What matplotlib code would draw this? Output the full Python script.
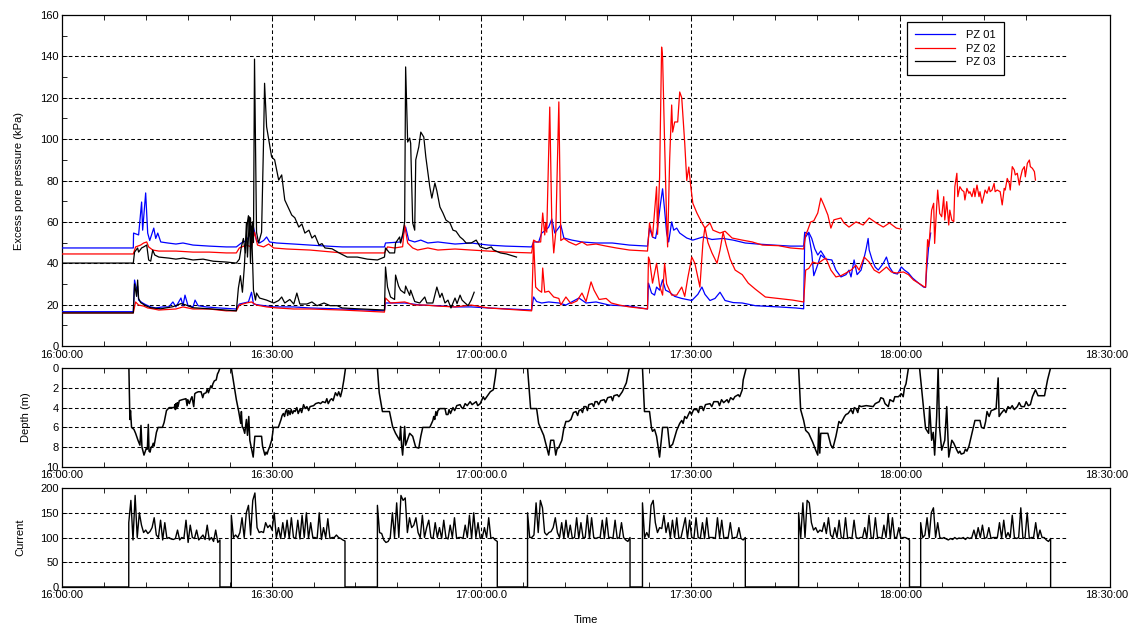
import numpy as np
import matplotlib
matplotlib.use("Agg")
import matplotlib.pyplot as plt
import matplotlib.transforms as mtransforms

plt.rcParams['font.family'] = ['Liberation Sans', 'DejaVu Sans']
plt.rcParams['font.size'] = 8

# time is in minutes after 16:00:00
x_major = [0, 30, 60, 90, 120, 150]
x_labels = ['16:00:00', '16:30:00', '17:00:00.0', '17:30:00', '18:00:00', '18:30:00']

# excess pore pressure (kPa), (minute, value)
pz01_upper = [
    (0, 47.4), (10.2, 47.4), (10.24, 54.6), (10.96, 53.7), (11.39, 69.6), (11.54, 56.0), (11.97, 74.0),
    (12.26, 54.6), (12.55, 51.0), (13.13, 57.0), (13.41, 52.0), (13.70, 54.6), (14.13, 50.3), (15.14, 49.8),
    (16.30, 49.3), (17.31, 49.8), (18.75, 48.8), (21.06, 48.3), (23.51, 47.9), (24.95, 47.9),
    (25.67, 49.8), (26.39, 51.0), (27.12, 55.0), (27.40, 57.5), (27.84, 51.0), (28.27, 49.8), (28.85, 51.0),
    (29.28, 52.7), (29.71, 50.3), (30.72, 49.8), (33.17, 49.3), (35.48, 48.8), (37.93, 48.3), (40.10, 47.9),
    (46.15, 47.9), (46.30, 49.8), (48.46, 50.3), (49.18, 57.5), (49.62, 51.2), (50.48, 50.3), (51.35, 51.2),
    (52.36, 49.8), (53.80, 50.3), (56.25, 49.3), (58.56, 49.8), (61.01, 48.8), (63.46, 48.3), (67.21, 47.9),
    (67.50, 50.3), (68.22, 50.3), (68.65, 54.6), (69.23, 56.0), (69.66, 57.5), (70.10, 61.4), (70.53, 54.6),
    (71.39, 58.5), (71.83, 52.2), (72.98, 51.2), (74.42, 50.3), (76.44, 49.8), (78.75, 49.8), (81.20, 48.8),
    (83.80, 48.3), (84.09, 57.0), (84.52, 52.7), (84.95, 52.0), (85.24, 57.5), (85.67, 69.0), (85.96, 76.0),
    (86.25, 65.7), (86.54, 54.6), (86.83, 50.3), (87.26, 60.0), (87.55, 56.0), (87.98, 57.0), (88.41, 54.6),
    (89.42, 52.2), (90.29, 51.2), (91.73, 52.7), (93.03, 51.5), (94.62, 52.0), (96.06, 51.2), (97.79, 49.8),
    (99.52, 49.3), (101.83, 48.8), (104.28, 48.3), (106.15, 48.3),
    (106.30, 55.0), (106.88, 54.0), (107.31, 45.0), (107.60, 34.0), (108.03, 38.0), (108.61, 44.0),
    (109.33, 42.0), (110.19, 41.6), (110.77, 36.7), (111.49, 33.4), (112.21, 34.5), (112.64, 36.7),
    (112.93, 33.4), (113.37, 41.6), (113.80, 34.5), (114.37, 36.7), (114.66, 40.5), (115.10, 47.0),
    (115.38, 52.0), (115.53, 46.4), (115.96, 41.6), (116.39, 38.2), (116.83, 36.7), (117.55, 40.0),
    (118.00, 43.0), (118.43, 38.2), (118.99, 35.3), (119.57, 34.8), (120.14, 38.2), (120.58, 36.7),
    (121.15, 35.3), (121.73, 32.9), (122.60, 30.4), (123.32, 28.5), (123.60, 28.3), (123.75, 36.7),
    (124.04, 47.9), (124.33, 54.6),
]
pz01_lower = [
    (0, 16.6), (10.2, 16.6), (10.38, 31.9), (10.67, 27.0), (10.82, 29.0), (10.96, 22.2), (11.54, 20.8),
    (11.97, 20.0), (12.69, 18.9), (13.41, 18.4), (14.42, 18.9), (15.29, 18.9), (15.87, 21.3), (16.30, 18.9),
    (17.02, 23.2), (17.31, 19.5), (17.60, 24.6), (18.03, 19.5), (18.75, 18.9), (19.04, 22.2), (19.47, 19.5),
    (20.63, 18.9), (22.50, 18.4), (24.95, 17.9),
    (25.38, 20.3), (26.68, 21.3), (27.12, 26.0), (27.40, 20.3), (28.27, 19.8), (30.29, 18.9), (33.17, 18.9),
    (35.48, 18.4), (40.10, 17.9), (46.15, 17.0),
    (46.30, 20.8), (49.04, 20.8), (51.35, 19.8), (53.80, 19.5), (56.25, 18.9), (58.56, 18.9), (61.01, 18.4),
    (67.21, 17.4), (67.50, 23.7), (67.93, 21.5), (68.65, 20.8), (69.66, 21.3), (71.11, 20.8), (72.12, 19.8),
    (73.99, 23.2), (75.00, 20.8), (76.44, 21.3), (78.32, 19.8), (81.20, 19.3), (83.80, 17.9),
    (83.94, 30.4), (84.38, 25.6), (84.81, 24.6), (85.10, 28.5), (85.53, 27.0), (85.96, 32.0), (86.39, 27.0),
    (86.97, 26.0), (87.69, 24.0), (88.70, 23.0), (89.42, 22.5), (90.14, 22.0), (90.58, 23.5), (91.01, 25.0),
    (91.59, 28.5), (92.02, 25.0), (92.74, 22.0), (93.46, 23.0), (94.18, 26.0), (94.90, 22.0), (96.06, 21.0),
    (97.36, 20.8), (99.23, 19.5), (102.55, 18.9), (105.00, 18.4), (106.15, 18.0),
    (106.30, 52.0), (106.88, 55.0), (107.31, 52.0), (107.74, 47.0), (108.17, 44.0), (108.61, 46.0),
    (109.18, 43.0),
]
pz02_upper = [
    (0, 44.5), (10.2, 44.5), (10.53, 47.9), (11.25, 48.8), (11.68, 49.8), (12.12, 50.3), (12.40, 47.9),
    (12.98, 46.4), (13.85, 45.9), (16.30, 45.9), (18.75, 45.4), (21.06, 45.4), (23.51, 45.0), (24.95, 45.0),
    (25.38, 47.4), (26.39, 48.8), (27.12, 47.9), (27.55, 55.0), (27.98, 48.8), (28.85, 47.9), (29.57, 49.3),
    (30.29, 47.4), (32.16, 46.9), (35.48, 46.4), (40.10, 45.0), (46.15, 45.0),
    (46.59, 47.9), (47.60, 47.4), (48.75, 48.0), (49.04, 58.5), (49.47, 49.8), (50.19, 47.4), (50.90, 46.4),
    (52.36, 47.4), (53.80, 46.4), (56.25, 46.9), (58.56, 46.4), (61.01, 45.9), (63.46, 45.4), (67.21, 45.0),
    (67.50, 51.2), (67.93, 50.3), (68.51, 50.3), (68.80, 64.3), (69.09, 53.7), (69.23, 59.5), (69.38, 55.0),
    (69.81, 115.5), (70.10, 60.0), (70.38, 45.0), (70.67, 55.0), (71.11, 118.0), (71.39, 51.0), (71.83, 52.0),
    (72.55, 50.3), (73.56, 48.8), (74.42, 50.3), (75.14, 48.8), (76.44, 49.3), (77.88, 48.3), (79.33, 47.4),
    (81.20, 46.4), (83.80, 45.9),
    (84.09, 59.5), (84.52, 52.7), (85.10, 77.0), (85.24, 54.0), (85.53, 81.7), (85.82, 144.5), (85.96, 139.7),
    (86.25, 98.0), (86.54, 60.0), (86.68, 47.9), (86.97, 90.0), (87.26, 116.5), (87.40, 103.4), (87.69, 108.3),
    (88.12, 108.3), (88.41, 122.8), (88.70, 120.0), (89.13, 98.0), (89.42, 80.0), (89.71, 86.5), (90.00, 77.0),
    (90.29, 69.0), (90.87, 64.3), (91.59, 59.5), (92.02, 57.0), (92.74, 59.5), (93.17, 56.0), (94.18, 54.6),
    (94.90, 55.5), (95.91, 52.2), (97.36, 51.2), (98.80, 50.3), (100.24, 48.8), (102.55, 48.5), (104.28, 47.4),
    (106.15, 46.9),
    (106.44, 53.7), (106.73, 56.0), (107.16, 60.0), (107.60, 60.5), (108.17, 64.3), (108.61, 71.5),
    (109.04, 68.2), (109.62, 63.3), (110.05, 57.0), (110.48, 61.0), (111.49, 61.9), (111.92, 59.5),
    (112.64, 57.5), (113.65, 60.0), (114.66, 58.5), (115.53, 61.9), (116.54, 59.5), (117.55, 57.5),
    (118.43, 59.5), (119.42, 57.0), (120.14, 56.5),
]
pz02_lower = [
    (0, 16.0), (10.2, 16.0), (10.53, 21.3), (10.96, 19.8), (11.68, 19.3), (12.26, 18.4), (12.98, 18.0),
    (13.85, 17.4), (16.30, 17.9), (17.31, 18.9), (18.75, 17.9), (21.06, 17.9), (23.51, 17.0), (24.95, 17.0),
    (25.38, 19.8), (26.39, 20.8), (27.12, 21.3), (27.84, 19.8), (29.28, 18.9), (30.72, 18.4), (33.17, 17.9),
    (35.48, 17.9), (40.10, 17.4), (46.15, 16.4),
    (46.30, 23.2), (47.02, 20.8), (49.04, 21.3), (50.48, 19.8), (51.92, 19.8), (53.80, 19.3), (56.25, 18.9),
    (58.56, 19.8), (61.01, 18.4), (67.21, 17.0),
    (67.50, 51.0), (67.79, 28.5), (68.22, 27.0), (68.65, 26.0), (68.80, 37.7), (69.09, 26.0), (69.66, 26.5),
    (70.38, 23.7), (71.11, 23.0), (71.39, 19.8), (72.12, 23.7), (72.84, 20.5), (73.70, 21.8), (74.42, 25.6),
    (75.00, 21.5), (75.72, 31.0), (76.15, 27.0), (76.88, 22.5), (77.88, 23.0), (78.61, 20.8), (79.76, 19.8),
    (81.20, 18.9), (83.80, 17.9),
    (83.94, 43.0), (84.09, 41.6), (84.52, 30.4), (85.10, 40.0), (85.53, 29.0), (85.96, 24.6), (86.25, 40.0),
    (86.54, 30.0), (87.26, 24.6), (87.98, 24.6), (88.70, 28.5), (89.13, 24.0), (89.57, 33.0), (90.14, 43.0),
    (90.58, 40.0), (91.30, 28.5), (91.73, 49.8), (92.02, 57.5), (92.45, 50.0), (93.03, 45.0), (93.75, 40.0),
    (94.18, 46.4), (94.62, 55.0), (95.05, 49.0), (95.63, 42.0), (96.35, 36.7), (97.36, 34.5), (98.22, 30.4),
    (99.23, 27.5), (100.67, 23.7), (102.55, 23.0), (104.57, 22.2), (106.15, 21.3),
    (106.44, 36.7), (106.88, 37.5), (107.45, 40.6), (108.17, 39.8), (108.89, 41.6), (109.33, 42.5),
    (110.05, 36.7), (110.77, 33.4), (111.49, 34.0), (112.21, 35.3), (112.93, 36.7), (113.65, 39.0),
    (114.09, 36.7), (114.81, 43.0), (115.53, 40.6), (116.25, 36.7), (116.97, 35.3), (118.00, 38.2),
    (118.70, 35.8), (119.42, 35.3), (120.43, 35.8), (121.15, 34.5), (121.88, 31.9), (122.60, 30.4),
    (123.47, 28.5), (123.60, 28.5), (123.89, 51.4), (124.04, 48.0), (124.18, 52.8), (124.47, 65.7),
    (124.76, 69.0), (124.90, 49.6), (125.19, 67.4), (125.34, 75.4), (125.62, 64.1), (125.91, 62.5),
    (126.20, 72.2), (126.35, 60.9), (126.63, 69.8), (126.92, 58.5), (127.07, 65.7), (127.36, 60.9),
    (127.64, 60.1), (127.79, 77.0), (128.08, 83.5), (128.22, 72.2), (128.51, 77.0), (128.80, 75.4),
    (129.09, 74.6), (129.23, 70.6), (129.52, 76.2), (129.81, 73.8), (129.95, 74.6), (130.24, 72.2),
    (130.53, 76.2), (130.67, 72.2), (130.96, 77.8), (131.25, 72.2), (131.39, 74.6), (131.68, 69.0),
    (131.97, 73.0), (132.12, 75.4), (132.40, 73.8), (132.69, 77.0), (132.84, 74.6), (133.12, 75.4),
    (133.41, 78.6), (133.56, 74.6), (133.85, 75.4), (134.28, 74.6), (134.57, 68.2), (134.86, 76.2),
    (135.00, 75.4), (135.29, 81.0), (135.58, 78.6), (135.72, 75.4), (136.01, 86.7), (136.30, 85.1),
    (136.44, 82.7), (136.73, 83.5), (137.02, 77.8), (137.16, 81.0), (137.45, 85.1), (137.74, 86.7),
    (137.88, 81.8), (138.17, 88.3), (138.46, 89.9), (138.60, 86.7), (138.89, 85.9), (139.18, 84.3),
    (139.33, 80.2),
]
pz03_upper = [
    (0, 40.1), (10.2, 40.1), (10.38, 45.4), (10.82, 47.4), (10.96, 45.4), (11.39, 47.4), (11.68, 47.9),
    (12.12, 48.8), (12.40, 41.6), (12.69, 41.0), (12.98, 46.4), (13.27, 44.0), (13.85, 43.0), (15.29, 42.5),
    (16.30, 42.0), (17.31, 42.5), (18.75, 41.6), (20.19, 42.0), (21.63, 41.0), (23.51, 40.6), (24.95, 40.1),
    (25.38, 42.0), (25.67, 48.0), (25.96, 52.0), (26.25, 45.0), (26.54, 60.0), (26.68, 63.0), (26.83, 55.0),
    (26.97, 62.0), (27.12, 48.0), (27.26, 60.0), (27.40, 50.0), (27.55, 138.7), (27.84, 55.0), (28.13, 49.8),
    (28.56, 55.0), (28.85, 100.0), (28.99, 127.0), (29.28, 106.0), (30.00, 91.4), (30.43, 90.0), (31.01, 80.2),
    (31.44, 82.7), (31.88, 70.6), (32.88, 63.3), (33.32, 62.0), (33.89, 57.5), (34.33, 59.0), (34.76, 54.6),
    (35.34, 56.0), (35.77, 52.2), (36.20, 53.5), (36.78, 48.8), (37.21, 49.5), (37.64, 47.4), (38.65, 47.0),
    (39.66, 45.0), (40.82, 43.0), (42.26, 43.0), (43.70, 42.0), (45.14, 41.6), (46.15, 43.0),
    (46.30, 47.4), (46.88, 45.0), (47.60, 45.0), (47.74, 49.8), (48.32, 52.7), (48.46, 49.8), (48.75, 54.0),
    (49.04, 60.0), (49.18, 134.9), (49.47, 98.6), (49.76, 100.5), (49.90, 98.0), (50.19, 59.5), (50.48, 56.0),
    (50.63, 90.0), (51.06, 96.2), (51.35, 103.4), (51.78, 101.0), (52.07, 91.4), (52.64, 76.9), (52.93, 71.5),
    (53.37, 78.8), (53.65, 75.0), (54.09, 67.2), (54.52, 64.3), (54.95, 60.9), (55.53, 59.5), (55.96, 56.0),
    (56.39, 55.5), (56.97, 52.7), (57.40, 51.5), (57.84, 49.8), (58.56, 49.8), (59.28, 51.2), (59.86, 47.9),
    (60.72, 47.0), (61.44, 47.9), (61.73, 46.5), (62.74, 45.0), (63.61, 44.5), (65.05, 43.0),
]
pz03_lower = [
    (0, 16.0), (10.2, 16.0), (10.38, 30.0), (10.67, 24.0), (10.82, 31.9), (10.96, 23.0), (11.25, 21.0),
    (11.97, 19.5), (12.69, 18.5), (14.13, 18.0), (15.87, 19.0), (17.02, 20.5), (17.60, 20.0), (18.75, 18.5),
    (21.06, 18.0), (24.95, 17.0),
    (25.24, 28.0), (25.53, 34.0), (25.82, 26.0), (26.11, 39.0), (26.39, 59.5), (26.54, 43.0), (26.83, 62.4),
    (26.97, 40.0), (27.12, 58.0), (27.40, 27.0), (27.69, 22.2), (27.84, 25.6), (28.27, 23.2), (29.28, 22.2),
    (30.29, 20.8), (31.01, 22.0), (31.44, 23.7), (31.88, 20.8), (32.60, 22.5), (33.17, 20.3), (33.61, 25.6),
    (34.04, 20.3), (35.05, 20.3), (35.77, 21.3), (36.49, 19.5), (37.50, 20.8), (38.37, 19.5), (39.38, 19.5),
    (40.10, 18.4), (42.26, 18.0), (46.15, 17.4),
    (46.30, 38.2), (46.59, 28.5), (47.02, 23.7), (47.60, 22.5), (47.74, 34.3), (48.17, 29.0), (48.46, 27.0),
    (49.04, 25.5), (49.18, 29.0), (49.76, 24.5), (49.90, 27.0), (50.48, 21.5), (51.20, 20.8), (51.92, 23.7),
    (52.21, 20.8), (53.08, 20.8), (53.65, 28.5), (54.09, 23.5), (54.38, 25.5), (54.81, 20.8), (55.24, 22.2),
    (55.67, 18.4), (56.25, 23.2), (56.54, 20.5), (56.97, 24.6), (57.26, 22.2), (57.69, 20.8), (58.12, 19.5),
    (58.56, 22.2), (58.99, 26.0),
]

# depth (m) of each sounding, (minute, depth)
depth_runs = [
    [(9.57, 0.0), (9.71, 5.2), (9.80, 4.3), (9.95, 6.0), (10.29, 6.2), (10.53, 6.6), (10.87, 7.3), (11.15, 7.8),
     (11.30, 5.8), (11.44, 8.0), (11.73, 8.8), (12.07, 8.1), (12.21, 8.2), (12.35, 5.7), (12.45, 8.4),
     (12.60, 8.5), (12.75, 8.0), (12.93, 7.9), (13.05, 7.6), (13.15, 7.9), (13.27, 7.5), (13.51, 6.5),
     (13.75, 6.0), (14.37, 6.0), (14.61, 5.5), (14.75, 5.0), (14.85, 4.6), (14.95, 4.3), (15.34, 4.0),
     (16.06, 4.0), (16.15, 3.7), (16.22, 4.2), (16.30, 3.6), (16.40, 4.1), (16.50, 3.5), (16.60, 3.9),
     (16.78, 3.3), (17.20, 3.2), (17.74, 3.1), (17.90, 3.8), (18.00, 3.2), (18.22, 3.6), (18.46, 3.1),
     (18.60, 2.9), (18.85, 3.9), (19.00, 2.6), (19.18, 2.5), (19.50, 2.4), (19.90, 2.4), (20.14, 3.0),
     (20.30, 2.6), (20.62, 2.5), (20.80, 2.1), (20.95, 2.5), (21.10, 2.2), (21.30, 1.8), (21.45, 2.0),
     (21.59, 1.6), (21.80, 1.3), (22.07, 1.2), (22.25, 0.6), (22.40, 0.4), (22.60, 0.0)],
    [(24.23, 0.0), (24.95, 3.2), (25.29, 4.4), (25.58, 5.6), (25.67, 4.4), (25.80, 6.0), (25.91, 6.0),
     (26.15, 6.6), (26.39, 5.2), (26.54, 6.8), (26.73, 4.9), (26.88, 7.3), (27.36, 9.0), (27.60, 6.9),
     (28.56, 6.9), (28.70, 7.9), (29.04, 8.8), (29.20, 8.5), (29.35, 8.7), (29.52, 8.3), (29.70, 8.0),
     (30.00, 7.3), (30.15, 6.6), (30.24, 6.0), (30.96, 6.0), (31.20, 5.5), (31.35, 5.2), (31.50, 4.8),
     (31.68, 4.6), (31.85, 4.9), (32.00, 4.4), (32.16, 4.2), (32.30, 4.8), (32.45, 4.3), (32.64, 4.7),
     (32.80, 4.2), (33.00, 4.6), (33.20, 4.3), (33.36, 4.4), (33.60, 4.0), (33.80, 4.6), (34.09, 4.1),
     (34.30, 4.5), (34.57, 3.7), (34.80, 4.1), (35.05, 3.9), (35.30, 4.3), (35.50, 3.9), (36.01, 3.8),
     (36.30, 3.6), (36.73, 3.5), (37.00, 3.6), (37.30, 3.4), (37.69, 3.5), (37.90, 3.1), (38.10, 3.6),
     (38.41, 3.2), (38.60, 3.1), (38.80, 3.3), (39.13, 2.5), (39.40, 2.8), (39.60, 2.4), (39.86, 2.9),
     (40.10, 2.2), (40.34, 1.2), (40.58, 0.0)],
    [(45.14, 0.0), (45.40, 2.5), (45.86, 4.4), (46.87, 4.4), (47.31, 5.9), (47.74, 6.6), (48.32, 7.3),
     (48.46, 5.9), (48.60, 7.8), (48.75, 8.8), (49.04, 5.9), (49.18, 7.8), (49.76, 6.6), (50.19, 6.9),
     (50.62, 8.0), (51.06, 8.1), (51.35, 6.9), (51.63, 6.0), (52.64, 6.0), (53.08, 5.3), (53.20, 4.9),
     (53.35, 5.2), (53.51, 4.4), (53.65, 4.8), (53.80, 4.3), (54.09, 4.1), (54.81, 4.1), (55.00, 4.7),
     (55.24, 4.7), (55.40, 4.2), (55.60, 4.6), (55.96, 4.0), (56.20, 4.3), (56.50, 3.8), (56.97, 3.7),
     (57.20, 4.0), (57.40, 4.1), (57.70, 3.6), (58.00, 3.8), (58.41, 3.4), (58.70, 3.7), (59.28, 3.4),
     (59.50, 3.8), (59.86, 3.6), (60.10, 3.2), (60.29, 2.9), (60.50, 3.2), (61.30, 2.4), (61.73, 2.2),
     (62.02, 0.85), (62.16, 0.0)],
    [(66.63, 0.0), (67.07, 4.1), (67.93, 4.1), (68.22, 5.6), (68.51, 6.1), (68.94, 6.8), (69.37, 8.0),
     (69.66, 8.8), (69.95, 7.3), (70.38, 7.3), (70.67, 8.8), (70.85, 8.2), (71.11, 8.0), (71.30, 7.7),
     (71.54, 7.3), (71.80, 6.2), (72.12, 5.4), (72.50, 5.4), (72.84, 5.2), (73.00, 4.9), (73.20, 4.5),
     (73.56, 4.4), (73.80, 4.8), (74.00, 4.3), (74.28, 4.2), (74.50, 4.5), (74.70, 3.9), (75.00, 3.9),
     (75.20, 4.3), (75.40, 3.7), (75.86, 3.6), (76.10, 3.9), (76.30, 3.4), (76.59, 3.4), (76.80, 3.7),
     (77.10, 3.3), (77.60, 3.2), (77.80, 3.5), (78.10, 3.0), (78.60, 2.9), (78.80, 3.3), (79.00, 2.8),
     (79.47, 2.7), (79.70, 2.9), (80.19, 2.4), (80.77, 1.5), (81.20, 0.0)],
    [(83.08, 0.0), (83.37, 4.4), (84.09, 4.4), (84.38, 6.1), (84.52, 6.4), (84.81, 6.2), (85.10, 6.9),
     (85.53, 9.0), (85.96, 6.0), (86.68, 6.0), (86.97, 8.0), (87.40, 7.7), (87.98, 6.3), (88.41, 5.6),
     (88.70, 5.3), (88.90, 5.6), (89.13, 4.9), (89.40, 5.1), (89.86, 4.4), (90.10, 4.7), (90.40, 4.2),
     (90.87, 4.2), (91.10, 4.5), (91.30, 3.9), (91.59, 3.9), (91.80, 4.3), (92.10, 3.7), (92.74, 3.6),
     (93.00, 3.9), (93.30, 3.4), (93.89, 3.4), (94.10, 3.8), (94.40, 3.2), (94.70, 3.5), (95.19, 3.2),
     (95.40, 3.5), (95.70, 3.0), (96.06, 3.2), (96.30, 2.9), (96.78, 2.7), (97.00, 2.9), (97.36, 2.2),
     (97.50, 1.2), (97.93, 0.0)],
    [(105.43, 0.0), (105.72, 4.2), (106.15, 5.3), (106.44, 6.3), (106.87, 6.6), (107.45, 7.5), (107.88, 8.3),
     (108.17, 8.8), (108.31, 6.0), (108.46, 8.6), (108.60, 6.6), (109.61, 6.6), (110.05, 7.8), (110.34, 8.1),
     (110.77, 6.9), (111.20, 5.4), (111.50, 5.6), (111.78, 5.2), (112.00, 4.9), (112.21, 4.7), (112.50, 4.6),
     (112.93, 4.2), (113.20, 4.6), (113.40, 4.0), (113.65, 4.1), (113.90, 4.5), (114.10, 3.8), (114.37, 3.9),
     (115.10, 3.8), (116.10, 3.9), (116.40, 3.6), (116.97, 3.4), (117.20, 3.0), (117.55, 3.1), (117.80, 3.6),
     (118.27, 3.9), (118.50, 3.2), (118.99, 3.4), (119.20, 2.9), (119.71, 2.9), (120.14, 2.6), (120.40, 2.9),
     (120.58, 2.0), (120.80, 1.6), (121.15, 0.0)],
    [(122.74, 0.0), (123.32, 4.1), (123.60, 6.1), (124.04, 6.6), (124.18, 3.9), (124.47, 7.3), (124.70, 6.5),
     (124.90, 8.8), (125.19, 4.9), (125.40, 0.0), (125.60, 6.0), (125.91, 8.3), (126.35, 7.3), (126.50, 5.5),
     (126.63, 3.9), (126.80, 7.0), (126.92, 9.0), (127.36, 7.3), (127.64, 7.6), (128.08, 8.3), (128.30, 8.6),
     (128.51, 8.4), (128.70, 8.7), (129.09, 8.6), (129.30, 8.2), (129.52, 8.4), (129.81, 7.9), (130.24, 6.6),
     (130.67, 5.3), (131.39, 5.3), (131.60, 6.0), (131.97, 6.1), (132.20, 5.4), (132.40, 4.4), (132.70, 4.9),
     (133.00, 4.3), (133.41, 4.2), (133.70, 4.1), (133.99, 1.0), (134.13, 4.9), (134.40, 4.6), (134.86, 4.2),
     (135.10, 4.5), (135.40, 3.9), (135.72, 4.1), (136.00, 3.8), (136.30, 4.2), (136.73, 3.9), (137.00, 3.5),
     (137.30, 3.9), (137.74, 3.9), (138.00, 3.4), (138.30, 3.8), (138.60, 3.7), (138.90, 2.9), (139.33, 2.2),
     (139.70, 2.8), (140.20, 2.8), (140.63, 2.8), (141.06, 1.2), (141.49, 0.0)],
]

# current, sampled evenly between start and end of each sounding
current_start = [9.55, 24.23, 45.14, 66.63, 83.08, 105.43, 122.9]
current_end = [22.6, 40.5, 62.3, 81.3, 97.8, 121.3, 141.5]
current_runs = [
    [130, 175, 95, 185, 100, 150, 125, 110, 115, 108, 112, 120, 140, 105, 100, 135, 95, 130, 98, 100, 97, 96,
     98, 115, 95, 100, 98, 135, 90, 125, 100, 98, 115, 95, 100, 105, 96, 125, 95, 100, 92, 115, 90, 95],
    [145, 100, 105, 100, 110, 140, 100, 150, 165, 105, 175, 190, 120, 110, 112, 110, 130, 120, 125, 115, 150,
     100, 120, 98, 130, 100, 135, 98, 140, 100, 98, 135, 97, 145, 100, 150, 98, 130, 100, 100, 98, 150, 96,
     120, 100, 138, 98, 100, 100, 105, 100, 98, 95, 93],
    [165, 110, 108, 95, 90, 92, 100, 150, 100, 170, 100, 185, 175, 180, 110, 140, 120, 125, 140, 110, 100,
     145, 100, 120, 135, 100, 98, 130, 100, 120, 98, 135, 100, 97, 125, 100, 140, 98, 100, 100, 98, 125, 100,
     145, 98, 150, 100, 130, 98, 100, 120, 100, 140, 98, 100, 95, 92],
    [150, 100, 100, 105, 170, 110, 175, 160, 110, 105, 110, 112, 120, 140, 110, 100, 130, 98, 135, 100, 125,
     98, 100, 140, 98, 130, 100, 100, 145, 98, 140, 100, 98, 100, 100, 135, 98, 140, 100, 100, 98, 135, 98,
     100, 130, 100, 95, 92, 100],
    [170, 100, 110, 100, 165, 175, 130, 110, 120, 118, 145, 110, 130, 100, 135, 100, 140, 98, 100, 120, 140,
     98, 135, 100, 98, 140, 100, 98, 130, 98, 140, 100, 100, 100, 98, 140, 100, 135, 98, 100, 100, 130, 98,
     100, 100, 120, 98, 95, 100],
    [150, 100, 170, 100, 175, 170, 130, 115, 120, 110, 115, 112, 130, 108, 140, 105, 100, 120, 100, 135, 100,
     98, 140, 98, 100, 98, 135, 100, 98, 100, 100, 120, 98, 145, 100, 98, 140, 100, 100, 98, 125, 100, 148,
     98, 140, 100, 100, 120, 98, 100, 100, 98, 95],
    [130, 100, 105, 140, 100, 150, 160, 100, 130, 100, 98, 100, 97, 95, 98, 96, 100, 97, 99, 98, 100, 96, 100,
     98, 100, 115, 98, 120, 100, 125, 98, 100, 120, 98, 100, 100, 100, 130, 98, 135, 100, 110, 100, 145, 100,
     98, 100, 160, 98, 100, 150, 98, 100, 100, 130, 98, 115, 100, 100, 95, 92, 98],
]


def unzip(pairs):
    a = np.array(pairs, dtype=float)
    return a[:, 0], a[:, 1]


fig = plt.figure(figsize=(11.3, 6.28), dpi=100)
ax1 = fig.add_axes([0.0549, 0.449, 0.9274, 0.5271])
ax2 = fig.add_axes([0.0549, 0.2564, 0.9274, 0.1576])
ax3 = fig.add_axes([0.0549, 0.0653, 0.9274, 0.1576])

lw = 0.9
# pore pressure
for pairs, col, lab in [(pz01_upper, 'blue', 'PZ 01'), (pz01_lower, 'blue', None),
                        (pz02_upper, 'red', 'PZ 02'), (pz02_lower, 'red', None),
                        (pz03_upper, 'black', 'PZ 03'), (pz03_lower, 'black', None)]:
    t, v = unzip(pairs)
    ax1.plot(t, v, color=col, lw=lw, label=lab, zorder=3)

# depth
dt, dv = [], []
for run in depth_runs:
    t, v = unzip(run)
    dt.extend(t)
    dv.extend(v)
ax2.plot(dt, dv, color='black', lw=1.1, zorder=3)

# current
ct, cv = [0.0], [0.0]
for s, e, vals in zip(current_start, current_end, current_runs):
    tt = np.linspace(s, e, len(vals))
    ct.extend([s] + list(tt) + [e])
    cv.extend([0] + vals + [0])
ax3.plot(ct, cv, color='black', lw=1.0, zorder=3)

ax1.set_ylim(0, 160)
ax2.set_ylim(10, 0)
ax3.set_ylim(0, 200)

dash = (0, (3.5, 2.5))
grid_end = 144
minor_x = [m for m in range(6, 142, 6) if m % 30]
shift_left = mtransforms.ScaledTranslation(-3 / 100, 0, fig.dpi_scale_trans)
for ax, yt in [(ax1, list(range(20, 160, 20))), (ax2, [2, 4, 6, 8]), (ax3, [50, 100, 150])]:
    ax.set_xlim(0, 150)
    ax.hlines(yt, 0, grid_end, colors='black', linestyles=dash, lw=0.75, zorder=1)
    y0, y1 = ax.get_ylim()
    ax.vlines([30, 60, 90, 120], min(y0, y1), max(y0, y1), colors='black', linestyles=dash, lw=0.75, zorder=1)
    ax.set_xticks(x_major)
    ax.set_xticklabels(x_labels)
    ax.set_xticks(minor_x, minor=True)
    ax.tick_params(which='both', direction='in', top=True, right=False, length=3.5, width=0.6,
                   labelsize=8, pad=2.5)
    last = ax.get_xticklabels()[-1]
    last.set_transform(last.get_transform() + shift_left)
    for sp in ax.spines.values():
        sp.set_linewidth(0.9)

ax1.set_yticks(range(0, 161, 20))
ax1.set_yticks(range(10, 160, 20), minor=True)
ax2.set_yticks(range(0, 11, 2))
ax3.set_yticks(range(0, 201, 50))

ax1.set_ylabel('Excess pore pressure (kPa)')
ax2.set_ylabel('Depth (m)')
ax3.set_ylabel('Current')
ax1.yaxis.set_label_coords(-0.036, 0.5)
ax2.yaxis.set_label_coords(-0.030, 0.5)
ax3.yaxis.set_label_coords(-0.035, 0.5)

fig.text(0.5186, 0.0127, 'Time', ha='center', va='center', fontsize=8)

leg = ax1.legend(loc='upper left', bbox_to_anchor=(0.806, 0.979), borderaxespad=0, fancybox=False,
                 edgecolor='black', framealpha=1, handlelength=3.6, labelspacing=0.3, fontsize=8,
                 borderpad=0.75, handletextpad=1.0)
leg.get_frame().set_linewidth(0.9)

fig.savefig('out.png', dpi=100)
